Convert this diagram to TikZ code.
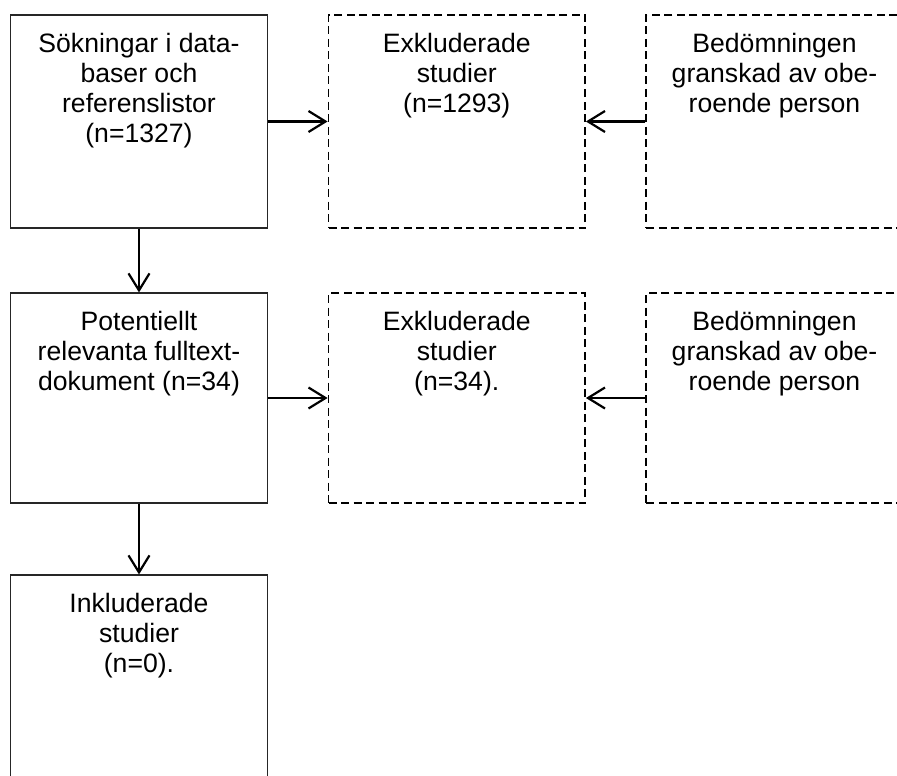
\documentclass[tikz,border=0pt]{standalone}
\usepackage{fontspec}
\setmainfont{Liberation Sans}
\usetikzlibrary{arrows.meta}
\begin{document}
\begin{tikzpicture}[x=1pt,y=-1pt,
  solidbox/.style={draw=black!85,line width=1.1pt,rectangle,inner sep=0pt,minimum width=257pt,minimum height=#1},
  dashbox/.style={draw=black,line width=1.8pt,dash pattern=on 8pt off 4.5pt,rectangle,inner sep=0pt,minimum width=256.5pt,minimum height=#1},
  txt/.style={anchor=north,inner sep=0pt,align=center,font=\fontsize{26.6}{30}\selectfont},
  arr/.style={-{Straight Barb[length=17pt,width=21pt,line width=2.2pt]},line width=2.2pt,black}]
\useasboundingbox (0,0) rectangle (897,776);
\clip (0,0) rectangle (897,776);
% row 1
\node[solidbox=213pt] (s1) at (139,121.5) {};
\node[dashbox=213pt] (e1) at (456.75,121.5) {};
\node[dashbox=213pt] (g1) at (774.5,121.5) {};
% row 2
\node[solidbox=210pt] (s2) at (139,398) {};
\node[dashbox=210pt] (e2) at (456.75,398) {};
\node[dashbox=210pt] (g2) at (774.5,398) {};
% row 3
\node[solidbox=215pt] (s3) at (139,682.5) {};
% texts
\node[txt] (t1) at ([yshift=-18.5pt]s1.north) {Sökningar i data-\\baser och\\referenslistor\\(n=1327)};
\node[txt] (t2) at ([yshift=-18.5pt]e1.north) {Exkluderade\\studier\\(n=1293)};
\node[txt] (t3) at ([yshift=-18.5pt]g1.north) {Bedömningen\\granskad av obe-\\roende person};
\node[txt] (t4) at ([yshift=-18.5pt]s2.north) {Potentiellt\\relevanta fulltext-\\dokument (n=34)};
\node[txt] (t5) at ([yshift=-18.5pt]e2.north) {Exkluderade\\studier\\(n=34).};
\node[txt] (t6) at ([yshift=-18.5pt]g2.north) {Bedömningen\\granskad av obe-\\roende person};
\node[txt] (t7) at ([yshift=-18.5pt]s3.north) {Inkluderade\\studier\\(n=0).};
% connectors
\draw[arr] (s1.east) -- (e1.west);
\draw[arr] (g1.west) -- (e1.east);
\draw[arr] (s2.east) -- (e2.west);
\draw[arr] (g2.west) -- (e2.east);
\draw[arr] (s1.south) -- (s2.north);
\draw[arr] (s2.south) -- (s3.north);
\end{tikzpicture}
\end{document}
